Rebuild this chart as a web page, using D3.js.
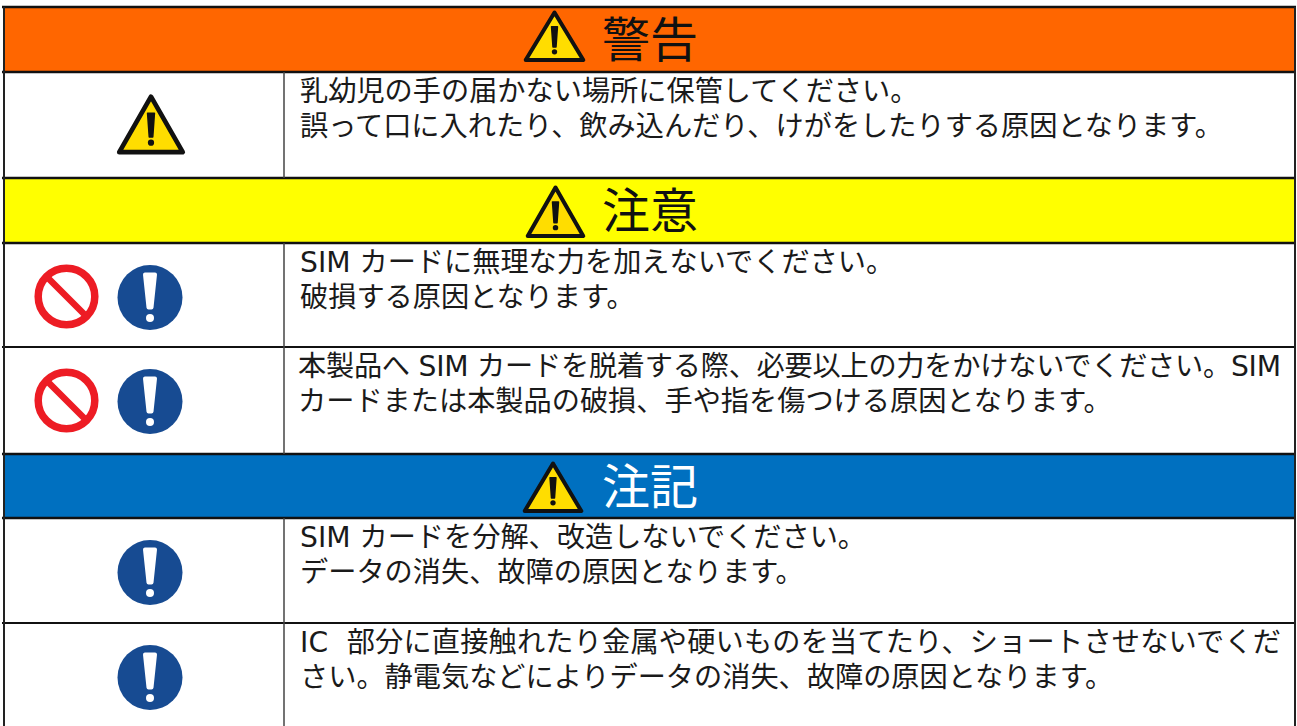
<!DOCTYPE html>
<html><head><meta charset="utf-8">
<script src="https://cdnjs.cloudflare.com/ajax/libs/d3/7.8.5/d3.min.js"></script>
<style>html,body{margin:0;padding:0;background:#fff;overflow:hidden}svg{display:block}
text{font-family:"DejaVu Sans","Noto Sans CJK JP",sans-serif;fill:#1a1a1a}</style></head>
<body><svg id="c" width="1297" height="726"></svg>
<script>
const headers = ["警告","注意","注記"];
const headerFills = ["#FF6600","#FFFF00","#0070C0"];
const headerInk = ["#111","#111","#fff"];
const rowText = [
 ["乳幼児の手の届かない場所に保管してください。","誤って口に入れたり、飲み込んだり、けがをしたりする原因となります。"],
 ["SIM カードに無理な力を加えないでください。","破損する原因となります。"],
 ["本製品へ SIM カードを脱着する際、必要以上の力をかけないでください。SIM","カードまたは本製品の破損、手や指を傷つける原因となります。"],
 ["SIM カードを分解、改造しないでください。","データの消失、故障の原因となります。"],
 ["IC\u00A0 部分に直接触れたり金属や硬いものを当てたり、ショートさせないでくだ","さい。静電気などによりデータの消失、故障の原因となります。"]
];
const rowIcons = [["warn"],["ban","must"],["ban","must"],["must"],["must"]];
const rowKinds = ["h0","r0","h1","r1","r2","h2","r3","r4"];

const svg = d3.select("#c");
const y = d3.scaleOrdinal().domain(rowKinds).range([7,72,178,243,347,454,518,623]);
const bottom = d3.scaleOrdinal().domain(rowKinds).range([72,178,243,347,454,518,623,740]);
const L=4, R=1295, COL=284;

headers.forEach((h,i)=>{
  const k="h"+i, g=svg.append("g");
  g.append("rect").attr("x",L).attr("y",y(k)).attr("width",R-L).attr("height",bottom(k)-y(k)).attr("fill",headerFills[i]);
});

function triangle(sel,cx,top,base,halfW){
  const sw=(base-top)*0.075;
  const g=sel.append("g");
  g.append("path").attr("d",d3.line()([[cx,top+sw],[cx+halfW-sw*.8,base-sw/2],[cx-halfW+sw*.8,base-sw/2]])+"Z")
   .attr("fill","#FFDD00").attr("stroke","#111").attr("stroke-width",sw).attr("stroke-linejoin","round");
  const h=base-top;
  g.append("path").attr("d",d3.line()([[cx-h*.055,top+h*.34],[cx+h*.055,top+h*.34],[cx+h*.028,top+h*.72],[cx-h*.028,top+h*.72]])+"Z")
   .attr("fill","#111").attr("stroke","#111").attr("stroke-width",1.5).attr("stroke-linejoin","round");
  g.append("circle").attr("cx",cx).attr("cy",top+h*.81).attr("r",h*.05).attr("fill","#111");
}
function must(sel,cx,cy){
  const g=sel.append("g");
  g.append("circle").attr("cx",cx).attr("cy",cy).attr("r",32.5).attr("fill","#174B92");
  g.append("path").attr("d",d3.line()([[cx-5,cy-23],[cx+5,cy-23],[cx+1.5,cy+10],[cx-1.5,cy+10]])+"Z")
   .attr("fill","#fff").attr("stroke","#fff").attr("stroke-width",4).attr("stroke-linejoin","round");
  g.append("circle").attr("cx",cx).attr("cy",cy+20.5).attr("r",4).attr("fill","#fff");
}
function ban(sel,cx,cy){
  const g=sel.append("g"), r=28.3, d=r*Math.SQRT1_2;
  g.append("circle").attr("cx",cx).attr("cy",cy).attr("r",r).attr("fill","#fff").attr("stroke","#ED1C24").attr("stroke-width",7.5);
  g.append("line").attr("x1",cx-d).attr("y1",cy-d).attr("x2",cx+d).attr("y2",cy+d).attr("stroke","#ED1C24").attr("stroke-width",6.5);
}

const headerIcon=[[554.5,8.5,62,32],[555.5,183.5,238,31],[553,459.5,513,31.5]];
headers.forEach((h,i)=>{
  const k="h"+i, a=headerIcon[i];
  triangle(svg,a[0],a[1],a[2],a[3]);
  svg.append("text").attr("x",602).attr("y",y(k)+50).attr("font-size",48).attr("style",`fill:${headerInk[i]}`).text(h);
});

const iconX={1:{must:150},2:{ban:66.5,must:150}};
const stretched={"2-0":983,"4-0":981};
rowText.forEach((lines,i)=>{
  const k="r"+i, top=y(k);
  svg.append("g").selectAll("text").data(lines).join("text")
    .attr("x",i===2?298:300).attr("y",(d,j)=>top+29+j*35).attr("font-size",28.2)
    .attr("textLength",(d,j)=>stretched[i+"-"+j]||null).text(d=>d);
  const cy=top+54.5;
  if(i===0) triangle(svg,151,92,154.5,35.5);
  else rowIcons[i].forEach(n=>{
    const cx=iconX[rowIcons[i].length][n];
    (n==="ban"?ban:must)(svg,cx,cy-(n==="ban"?1:0));
  });
});

// rules
const rule=(x1,y1,x2,y2,w,c)=>svg.append("line").attr("x1",x1).attr("y1",y1).attr("x2",x2).attr("y2",y2).attr("stroke",c).attr("stroke-width",w);
rowKinds.forEach(k=>rule(L-2,y(k),R+1,y(k),k==="r2"||k==="r4"?2:2.5,"#111"));
rule(L,7,L,726,2,"#222"); rule(R,7,R,726,2,"#222");
["r0","r1","r2","r3","r4"].forEach(k=>rule(COL,y(k),COL,bottom(k),1.5,"#444"));
</script></body></html>
